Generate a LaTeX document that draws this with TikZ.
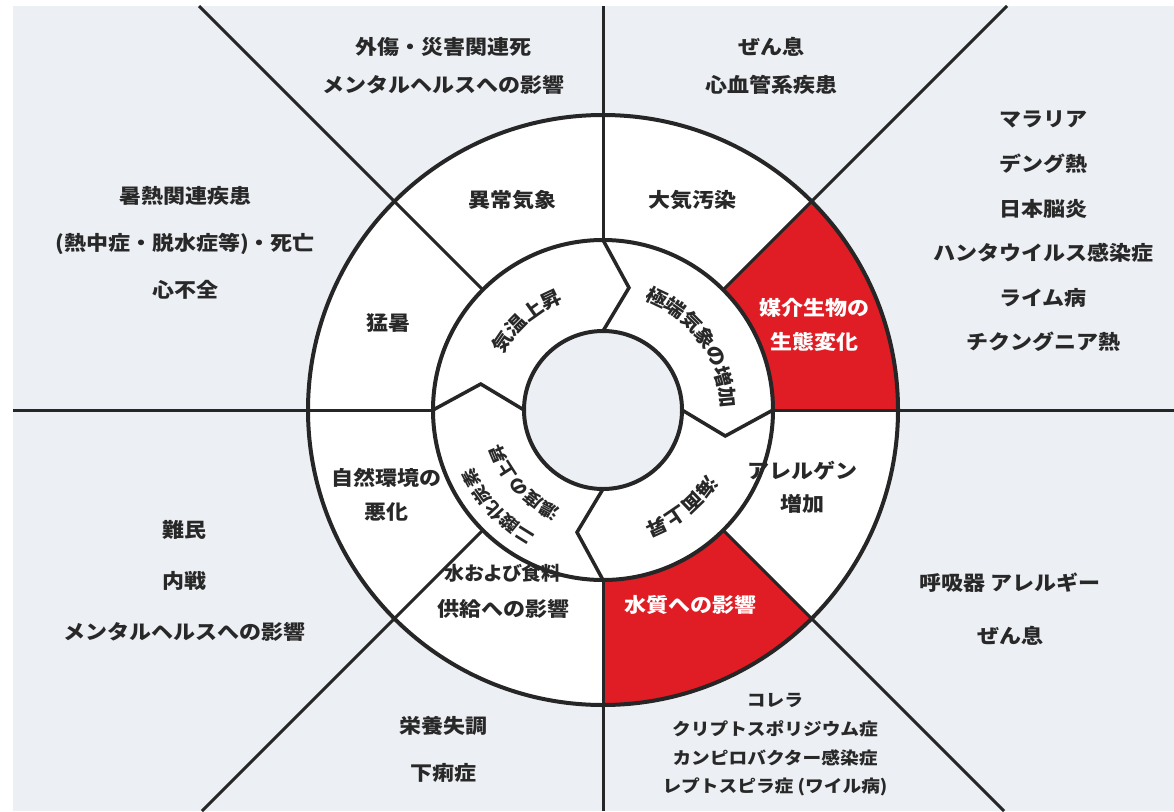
\documentclass[tikz,border=0pt]{standalone}
\usepackage{fontspec}
\setmainfont{Noto Sans CJK JP}[FakeStretch=1.1]
\newfontfamily\jpprop{Noto Sans CJK JP}[FakeStretch=1.05,RawFeature=+palt]
\usetikzlibrary{calc}
\definecolor{bgc}{RGB}{236,239,243}
\definecolor{redc}{RGB}{224,28,36}
\definecolor{linec}{RGB}{38,38,38}
\definecolor{txtc}{RGB}{40,40,40}
\tikzset{
  lbl/.style={text=txtc,inner sep=0pt,align=center,font=\fontsize{20}{#1}\selectfont\bfseries},
  lbl/.default=36,
  small/.style={text=txtc,inner sep=0pt,align=center,font=\fontsize{17}{28.7}\selectfont\bfseries},
  wlbl/.style={text=white,inner sep=0pt,align=center,font=\fontsize{20}{34}\selectfont\bfseries},
  ringtxt/.style={text=txtc,inner sep=0pt,font=\fontsize{19}{20}\selectfont\bfseries},
  ringtxtsm/.style={text=txtc,inner sep=0pt,font=\fontsize{17}{18}\selectfont\bfseries},
  ringline/.style={draw=linec,line width=4pt},
  spoke/.style={draw=linec,line width=3pt},
  zig/.style={draw=linec,line width=3.5pt,line join=miter},
}
\newcommand\arcchars[6]{%
  \foreach \ch [count=\i] in {#5} {%
    \pgfmathsetmacro\ang{#3-#4*(\i-1)}%
    \node[#6, rotate=\ang-90] (#1-\i) at ($(C)+(\ang:#2)$) {\ch};
  }}
\begin{document}
\begin{tikzpicture}[x=1pt,y=1pt]
\path[use as bounding box,fill=white] (0,0) rectangle (1174,-811);
\fill[bgc] (13,-6) rectangle (1174,-811);
\coordinate (C) at (603,-410);
% spoke end points
\coordinate (e0) at (1174,-410);
\coordinate (e45) at (1007,-6);
\coordinate (e90) at (603,-6);
\coordinate (e135) at (199,-6);
\coordinate (e180) at (13,-410);
\coordinate (e225) at (202,-811);
\coordinate (e270) at (603,-811);
\coordinate (e315) at (1004,-811);
% outer ring
\fill[white] (C) circle (295);
\fill[redc] (C) -- ($(C)+(0:295)$) arc[start angle=0,end angle=45,radius=295] -- cycle;
\fill[redc] (C) -- ($(C)+(270:295)$) arc[start angle=270,end angle=315,radius=295] -- cycle;
\draw[ringline] (C) circle (295);
\foreach \a in {0,45,90,135,180,225,270,315} {
  \coordinate (s\a) at ($(C)+(\a:168)$);
  \draw[spoke] (s\a) -- (e\a);
}
% middle ring
\draw[ringline,fill=white] (C) circle (170);
\draw[ringline,fill=bgc] (C) circle (79);
\draw[zig] ($(C)+(90:79)$) -- ($(C)+(78:125)$) -- ($(C)+(90:170)$);
\draw[zig] ($(C)+(0:79)$) -- ($(C)+(-12:125)$) -- ($(C)+(0:170)$);
\draw[zig] ($(C)+(270:79)$) -- ($(C)+(258:125)$) -- ($(C)+(270:170)$);
\draw[zig] ($(C)+(180:79)$) -- ($(C)+(168:125)$) -- ($(C)+(180:170)$);
% ring texts
\arcchars{kion}{122}{145.8}{10.2}{気,温,上,昇}{ringtxt}
\arcchars{kyoku}{125}{64.5}{9.8}{極,端,気,象,の,増,加}{ringtxt}
\arcchars{kai}{129}{-36.5}{9.6}{海,面,上,昇}{ringtxt}
\arcchars{co}{148}{238}{7.6}{二,酸,化,炭,素}{ringtxtsm}
\arcchars{nodo}{114}{242}{9.8}{濃,度,の,上,昇}{ringtxtsm}
% outer ring labels
\node[lbl] (ijou) at (512,-200) {異常気象};
\node[lbl] (taiki) at (692,-200) {大気汚染};
\node[wlbl] (baikai) at (814,-325) {媒介生物の\\生態変化};
\node[lbl] (mousho) at (388,-323) {猛暑};
\node[lbl=34] (shizen) at (386,-495) {自然環境の\\悪化};
\node[lbl=36] (mizu) at (503,-591) {{\jpprop\fontsize{19}{36}\selectfont 水および食料}\\供給への影響};
\node[wlbl] (suishitsu) at (690,-605) {水質への影響};
\node[lbl=33] (allergen) at (802,-487) {アレルゲン\\増加};
% outside labels
\node[lbl=38] (gaisho) at (443,-66) {外傷・災害関連死\\メンタルヘルスへの影響};
\node[lbl=38] (zensoku) at (771,-66) {ぜん息\\心血管系疾患};
\node[lbl=44.6] (malaria) at (1043,-231.5) {マラリア\\デング熱\\日本脳炎\\ハンタウイルス感染症\\ライム病\\チクングニア熱};
\node[lbl=47] (shonetsu) at (185,-243) {暑熱関連疾患\\(熱中症・脱水症等)・死亡\\心不全};
\node[lbl=51] (nanmin) at (184,-581) {難民\\内戦\\メンタルヘルスへの影響};
\node[lbl=53] (kokyuki) at (1010,-609.5) {呼吸器 アレルギー\\ぜん息};
\node[lbl=47] (eiyou) at (443,-749.5) {栄養失調\\下痢症};
\node[small] (korera) at (775,-745) {コレラ\\クリプトスポリジウム症\\カンピロバクター感染症\\レプトスピラ症 (ワイル病)};
\end{tikzpicture}
\end{document}
